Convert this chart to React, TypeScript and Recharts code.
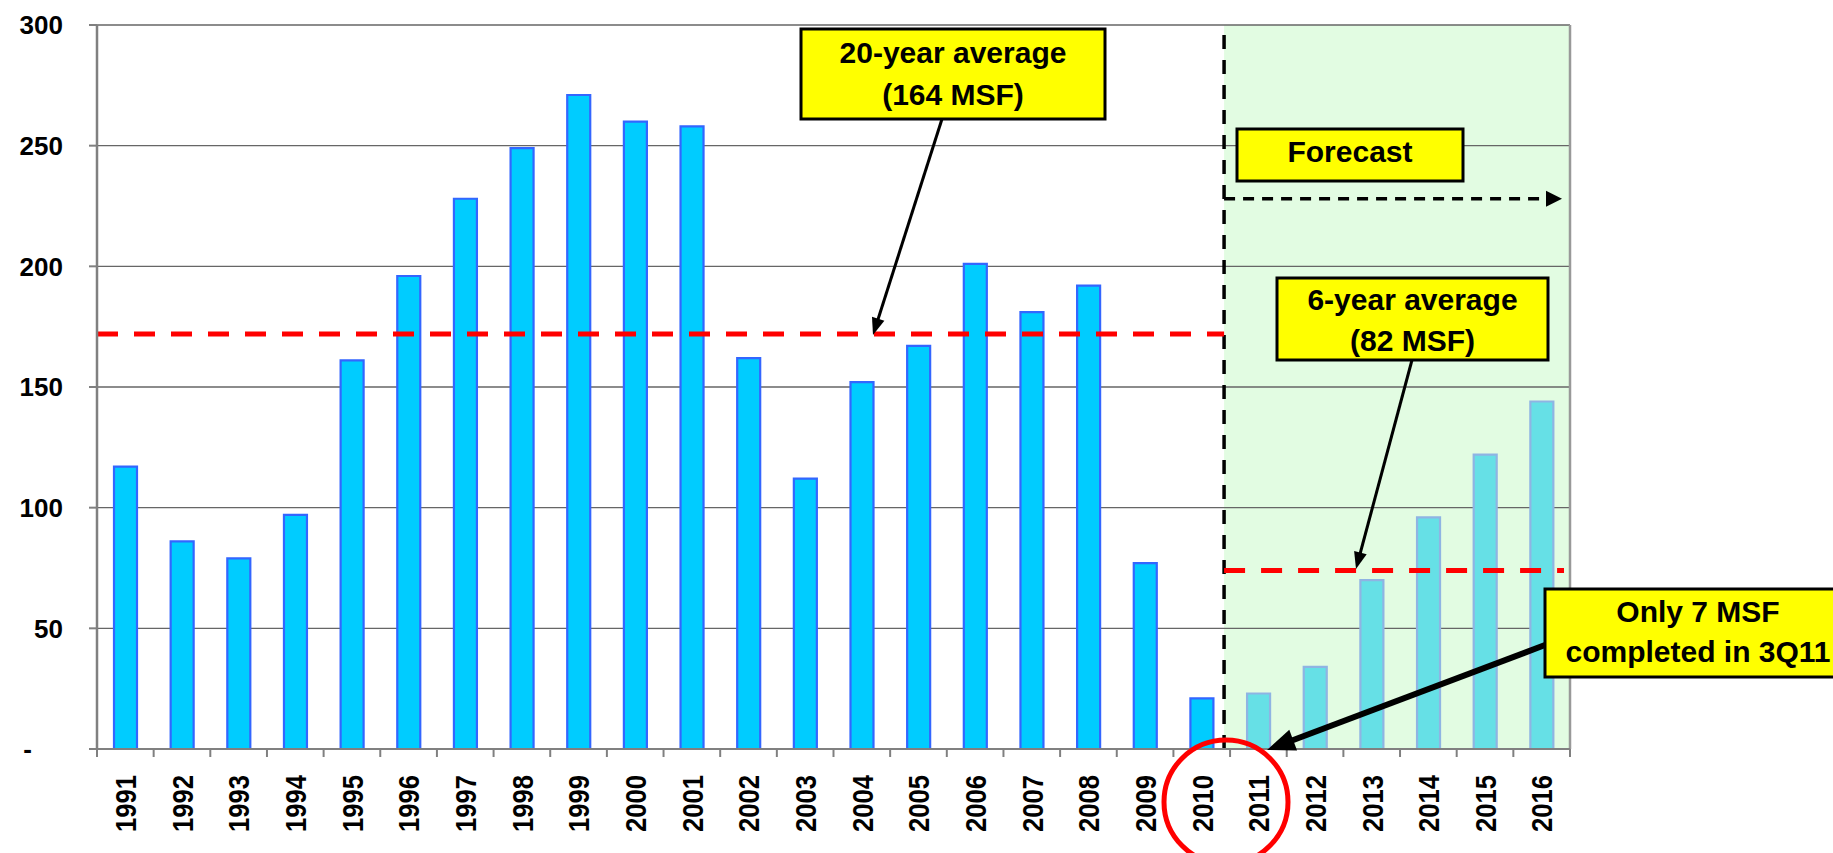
import React from "react";
import { BarChart, Bar, Cell, XAxis, YAxis, CartesianGrid, ReferenceLine, ReferenceArea } from "recharts";

// completions by year (MSF), 2011 onwards is forecast
const years = [
  "1991", "1992", "1993", "1994", "1995", "1996", "1997", "1998", "1999", "2000",
  "2001", "2002", "2003", "2004", "2005", "2006", "2007", "2008", "2009", "2010",
  "2011", "2012", "2013", "2014", "2015", "2016",
];
const completions = [
  117, 86, 79, 97, 161, 196, 228, 249, 271, 260,
  258, 162, 112, 152, 167, 201, 181, 192, 77, 21,
  23, 34, 70, 96, 122, 144,
];
const forecastStart = "2011";
const yTicks = [0, 50, 100, 150, 200, 250, 300];
const avg20Level = 172;
const avg6Level = 74;
const forecastArrowLevel = 228;

const data = years.map((year, i) => ({ year, value: completions[i] }));
const splitIndex = years.indexOf(forecastStart);
const splitFrac = splitIndex / years.length;
const SPLIT_NUDGE = 6; // divider sits a little left of the category boundary

const FONT = "'Liberation Sans', Arial, Helvetica, sans-serif";

function YearTick(props: any) {
  const { x, y, payload } = props;
  const half = payload.offset ?? 28;
  const isLast = years.indexOf(payload.value) === years.length - 1;
  return (
    <g>
      <line x1={x - half} y1={y} x2={x - half} y2={y + 8} stroke="#808080" strokeWidth={2} />
      {isLast && <line x1={x + half} y1={y} x2={x + half} y2={y + 8} stroke="#808080" strokeWidth={2} />}
      <text
        x={x}
        y={y + 26}
        dy="0.36em"
        transform={`rotate(-90, ${x}, ${y + 26})`}
        textAnchor="end"
        fontSize={30}
        textLength={57}
        lengthAdjust="spacingAndGlyphs"
        fontWeight="bold"
        fontFamily={FONT}
        fill="#000"
      >
        {payload.value}
      </text>
    </g>
  );
}

function ValueTick(props: any) {
  const { x, y, payload } = props;
  const zero = payload.value === 0;
  return (
    <text
      x={zero ? x - 31 : x}
      y={y}
      dy="0.36em"
      textAnchor="end"
      fontSize={26}
      fontWeight="bold"
      fontFamily={FONT}
      fill="#000"
    >
      {zero ? "-" : payload.value}
    </text>
  );
}

function Arrow({ x1, y1, x2, y2, width, head, headW }: any) {
  const dx = x2 - x1;
  const dy = y2 - y1;
  const len = Math.sqrt(dx * dx + dy * dy);
  const ux = dx / len;
  const uy = dy / len;
  const bx = x2 - ux * head;
  const by = y2 - uy * head;
  const px = -uy * headW / 2;
  const py = ux * headW / 2;
  return (
    <g>
      <line x1={x1} y1={y1} x2={bx + ux * 2} y2={by + uy * 2} stroke="#000" strokeWidth={width} />
      <polygon points={`${x2},${y2} ${bx + px},${by + py} ${bx - px},${by - py}`} fill="#000" />
    </g>
  );
}

function Box({ x, y, w, h, lines, baselines }: any) {
  return (
    <g>
      <rect x={x} y={y} width={w} height={h} fill="#FFFF00" stroke="#000" strokeWidth={3} />
      {lines.map((t: string, i: number) => (
        <text
          key={t}
          x={x + w / 2}
          y={baselines[i]}
          textAnchor="middle"
          fontSize={30}
          fontWeight="bold"
          fontFamily={FONT}
          fill="#000"
        >
          {t}
        </text>
      ))}
    </g>
  );
}

export default function App() {
  return (
    <div style={{ position: "absolute", left: 0, top: 0, width: 1833, height: 853, background: "#fff" }}>
      <BarChart
        width={1833}
        height={853}
        data={data}
        margin={{ top: 25, right: 263, bottom: 0, left: 0 }}
        barCategoryGap="28%"
      >
        <ReferenceArea
          x1={forecastStart}
          x2={years[years.length - 1]}
          fill="#E2FCE2"
          fillOpacity={1}
          stroke="none"
          zIndex={-150}
          shape={(p: any) => (
            <rect x={p.x - SPLIT_NUDGE} y={p.y} width={p.width + SPLIT_NUDGE} height={p.height} fill="#E2FCE2" />
          )}
        />
        <CartesianGrid vertical={false} stroke="#666" strokeWidth={1.4} />
        <XAxis
          dataKey="year"
          interval={0}
          height={104}
          tickLine={false}
          tickSize={0}
          tickMargin={0}
          axisLine={{ stroke: "#808080", strokeWidth: 2 }}
          tick={<YearTick />}
        />
        <YAxis
          domain={[0, 300]}
          ticks={yTicks}
          width={97}
          tickSize={8}
          tickMargin={26}
          tickLine={{ stroke: "#808080", strokeWidth: 2 }}
          axisLine={{ stroke: "#808080", strokeWidth: 2.5 }}
          tick={<ValueTick />}
        />
        <Bar dataKey="value" barSize={23} strokeWidth={2.2} isAnimationActive={false}>
          {data.map((d, i) => (
            <Cell
              key={d.year}
              fill={i >= splitIndex ? "#66E0E6" : "#00CCFF"}
              stroke={i >= splitIndex ? "#8FB4E3" : "#3366FF"}
            />
          ))}
        </Bar>
        <ReferenceLine
          x={years[years.length - 1]}
          position="end"
          stroke="#999"
          strokeWidth={2.5}
        />
        <ReferenceLine
          x={forecastStart}
          position="start"
          shape={(p: any) => (
            <line
              x1={p.x1 - SPLIT_NUDGE}
              y1={p.y1}
              x2={p.x2 - SPLIT_NUDGE}
              y2={p.y2}
              stroke="#000"
              strokeWidth={3.5}
              strokeDasharray="14 11"
            />
          )}
        />
        <ReferenceLine
          y={avg20Level}
          shape={(p: any) => (
            <line
              x1={p.x1}
              y1={p.y1}
              x2={p.x1 + (p.x2 - p.x1) * splitFrac - SPLIT_NUDGE}
              y2={p.y2}
              stroke="#FF0000"
              strokeWidth={5}
              strokeDasharray="21 16"
            />
          )}
        />
        <ReferenceLine
          y={avg6Level}
          shape={(p: any) => (
            <line
              x1={p.x1 + (p.x2 - p.x1) * splitFrac - SPLIT_NUDGE}
              y1={p.y1}
              x2={p.x2 - 6}
              y2={p.y2}
              stroke="#FF0000"
              strokeWidth={5}
              strokeDasharray="21 16"
            />
          )}
        />
        <ReferenceLine
          y={forecastArrowLevel}
          shape={(p: any) => {
            const xs = p.x1 + (p.x2 - p.x1) * splitFrac - SPLIT_NUDGE;
            const tip = p.x2 - 8;
            return (
              <g>
                <line x1={xs} y1={p.y1} x2={tip - 12} y2={p.y2} stroke="#000" strokeWidth={3.5} strokeDasharray="11 8" />
                <polygon points={`${tip},${p.y1} ${tip - 16},${p.y1 - 8} ${tip - 16},${p.y1 + 8}`} fill="#000" />
              </g>
            );
          }}
        />
      </BarChart>
      <svg
        width={1833}
        height={853}
        style={{ position: "absolute", left: 0, top: 0, pointerEvents: "none", overflow: "hidden" }}
      >
        <Arrow x1={942} y1={119} x2={873} y2={335} width={3} head={17} headW={13} />
        <Arrow x1={1412} y1={360} x2={1356} y2={569} width={3} head={17} headW={13} />
        <Arrow x1={1545} y1={645} x2={1267} y2={750} width={6} head={28} headW={22} />
        <Box x={801} y={29} w={304} h={90} lines={["20-year average", "(164 MSF)"]} baselines={[63, 105]} />
        <Box x={1237} y={129} w={226} h={52} lines={["Forecast"]} baselines={[162]} />
        <Box x={1277} y={278} w={271} h={82} lines={["6-year average", "(82 MSF)"]} baselines={[310, 351]} />
        <Box x={1545} y={589} w={306} h={88} lines={["Only 7 MSF", "completed in 3Q11"]} baselines={[622, 662]} />
        <ellipse cx={1226} cy={802} rx={62} ry={62} fill="none" stroke="#FF0000" strokeWidth={5} />
      </svg>
    </div>
  );
}
